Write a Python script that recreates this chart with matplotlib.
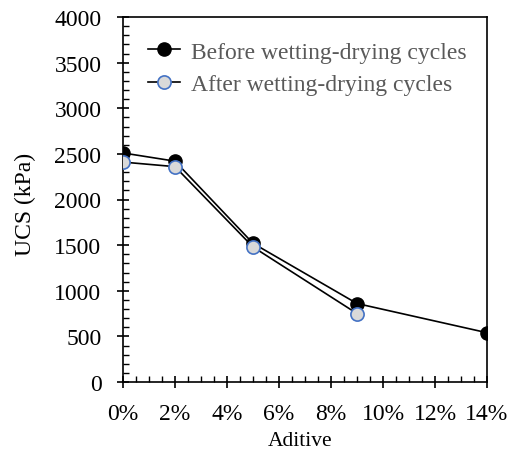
import matplotlib
matplotlib.use('Agg')
import matplotlib.pyplot as plt
from matplotlib.ticker import MultipleLocator, PercentFormatter

# UCS versus additive content
before_x = [0, 2, 5, 9, 14]
before_ucs = [2510, 2420, 1520, 860, 540]
after_x = [0, 2, 5, 9]
after_ucs = [2410, 2360, 1480, 750]

plt.rcParams['font.family'] = 'Liberation Serif'
plt.rcParams['font.size'] = 17

fig = plt.figure(figsize=(5.11, 4.6), dpi=100)
ax = fig.add_axes([123/511, 1-383/460, (487-123)/511, (383-18)/460])

ax.plot(before_x, before_ucs, '-o', color='black', lw=1.2, ms=9.5,
        mfc='black', mec='black', label='Before wetting-drying cycles', zorder=3)
ax.plot(after_x, after_ucs, '-o', color='black', lw=1.2, ms=9.5,
        mfc='#d9d9d9', mec='#4472c4', mew=1.2, label='After wetting-drying cycles', zorder=4)

ax.set_xlim(0, 14)
ax.set_ylim(0, 4000)
ax.xaxis.set_major_locator(MultipleLocator(2))
ax.xaxis.set_minor_locator(MultipleLocator(0.5))
ax.yaxis.set_major_locator(MultipleLocator(500))
ax.yaxis.set_minor_locator(MultipleLocator(100))
ax.xaxis.set_major_formatter(PercentFormatter(100, decimals=0))
ax.tick_params(which='major', direction='inout', length=9, width=1.2)
ax.tick_params(axis='x', which='major', pad=10.5)
ax.tick_params(axis='y', which='major', pad=11)
ax.tick_params(which='minor', direction='in', length=4, width=1)
for s in ax.spines.values():
    s.set_linewidth(1.2)

ax.set_xlabel('Aditive', fontsize=15.5)
ax.set_ylabel('UCS (kPa)', fontsize=17)
ax.xaxis.set_label_coords(0.486, -0.134)
ax.yaxis.set_label_coords(-0.239, 0.489)

leg = ax.legend(loc='upper left', bbox_to_anchor=(0.069, 0.934), frameon=False,
                handlelength=1.35, handletextpad=0.45, labelspacing=0.45,
                borderaxespad=0, borderpad=0)
for t in leg.get_texts():
    t.set_color('#595959')

fig.savefig('out.png', dpi=100)
